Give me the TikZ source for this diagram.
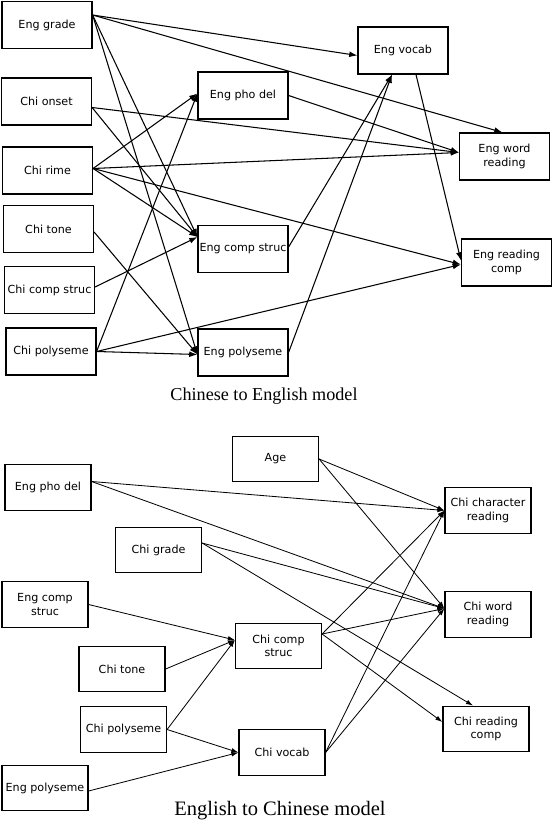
\documentclass[tikz,border=0pt]{standalone}
\usepackage{fontspec}
\usepackage{tikz}
\usetikzlibrary{arrows.meta, calc}
\newfontfamily\boxfont{DejaVu Sans}
\newfontfamily\capfont{Liberation Serif}
\tikzset{every node/.style={align=center}}

\begin{document}
\begin{tikzpicture}[
    x=0.03cm, y=-0.03cm,
    topbox/.style={draw, line width=1pt, minimum width=2.7cm, minimum height=1.41cm,
                   inner sep=0pt, font=\boxfont\fontsize{9.5}{11.4}\selectfont},
    botbox/.style={topbox, minimum width=2.58cm, minimum height=1.37cm},
    arr/.style={line width=0.9pt, -{Latex[length=7pt,width=5pt]}},
    thinarr/.style={line width=0.7pt, -{Latex[length=6pt,width=4pt]}},
    captext/.style={font=\capfont\fontsize{15.5}{18}\selectfont}
]
  \useasboundingbox (0,0) rectangle (553,825);

  % Chinese to English model
  \node (eg)  at (47,  25)   [topbox] {Eng grade};
  \node (co)  at (46.5,101.5)[topbox] {Chi onset};
  \node (cr)  at (47.5,170.5)[topbox] {Chi rime};
  \node (ct)  at (48.5,229)  [topbox] {Chi tone};
  \node (ccs) at (49.5,290)  [topbox] {Chi comp struc};
  \node (cp)  at (51,  351.5)[topbox] {Chi polyseme};
  \node (epd) at (243, 95.5) [topbox] {Eng pho del};
  \node (ecs) at (243, 249)  [topbox] {Eng comp struc};
  \node (ep)  at (243, 352.5)[topbox] {Eng polyseme};
  \node (ev)  at (403, 50.5) [topbox] {Eng vocab};
  \node (ewr) at (504.5,156.5)[topbox] {Eng word\\reading};
  \node (erc) at (506.5,262.5)[topbox] {Eng reading\\comp};
  \node (cap1) at (264,396) [captext] {Chinese to English model};

  \draw[arr] ($(eg.east)+(0,-10)$) -- ($(ev.west)+(0,5)$);
  \draw[arr] ($(eg.east)+(0,-10)$) -- ($(ewr.north)+(-2,0)$);
  \draw[arr] ($(eg.east)+(0,-10)$) -- ($(ecs.west)+(0,-12)$);
  \draw[arr] ($(eg.east)+(0,-10)$) -- ($(ep.west)+(0,2)$);
  \draw[arr] ($(co.east)+(0,6)$)   -- ($(ewr.west)+(0,-4)$);
  \draw[arr] ($(co.east)+(0,6)$)   -- ($(ecs.west)+(0,-12)$);
  \draw[arr] ($(cr.east)+(0,-2)$)  -- ($(epd.west)+(0,-2)$);
  \draw[arr] ($(cr.east)+(0,-2)$)  -- ($(ewr.west)+(0,-4)$);
  \draw[arr] ($(cr.east)+(0,-2)$)  -- ($(erc.west)+(0,2)$);
  \draw[arr] ($(cr.east)+(0,-2)$)  -- ($(ecs.west)+(0,-12)$);
  \draw[arr] ($(ct.east)+(0,3)$)   -- ($(ep.west)+(0,2)$);
  \draw[arr] ($(ccs.east)+(0,-3)$) -- ($(ecs.west)+(0,-12)$);
  \draw[arr] (cp.east) -- ($(epd.west)+(0,-2)$);
  \draw[arr] (cp.east) -- ($(ep.west)+(0,2)$);
  \draw[arr] (cp.east) -- ($(erc.west)+(0,2)$);
  \draw[arr] (epd.east) -- ($(ewr.west)+(0,-4)$);
  \draw[arr] ($(ecs.east)+(0,-2)$) -- ($(ev.south)+(-11,0)$);
  \draw[arr] (ep.east) -- ($(ev.south)+(-11,0)$);
  \draw[arr] ($(ev.south)+(13,0)$) -- ($(erc.west)+(0,-2)$);

  % English to Chinese model
  \node (age)  at (275.5,459)  [botbox] {Age};
  \node (epd2) at (48,  487.5) [botbox] {Eng pho del};
  \node (cg)   at (158.5,550)  [botbox] {Chi grade};
  \node (ecs2) at (45,  604.5) [botbox] {Eng comp\\struc};
  \node (cto)  at (122, 669)   [botbox] {Chi tone};
  \node (cpo)  at (123.5,729.5)[botbox] {Chi polyseme};
  \node (epo)  at (45,  788)   [botbox] {Eng polyseme};
  \node (ccs2) at (278.5,646)  [botbox] {Chi comp\\struc};
  \node (cv)   at (282, 752.5) [botbox] {Chi vocab};
  \node (ccr)  at (488, 510.5) [botbox] {Chi character\\reading};
  \node (cwr)  at (488, 614.5) [botbox] {Chi word\\reading};
  \node (crc)  at (486, 729)   [botbox] {Chi reading\\comp};
  \node (cap2) at (280,811) [captext, font=\capfont\fontsize{17.5}{20}\selectfont] {English to Chinese model};

  \draw[thinarr] (age.east) -- (ccr.west);
  \draw[thinarr] (age.east) -- ($(cwr.west)+(0,-6)$);
  \draw[thinarr] ($(epd2.east)+(0,-6)$) -- (ccr.west);
  \draw[thinarr] ($(epd2.east)+(0,-6)$) -- ($(cwr.west)+(0,-6)$);
  \draw[thinarr] ($(cg.east)+(0,-7)$) -- ($(cwr.west)+(0,-6)$);
  \draw[thinarr] ($(cg.east)+(0,-7)$) -- ($(crc.north)+(-13,0)$);
  \draw[thinarr] (ecs2.east) -- ($(ccs2.west)+(0,-6)$);
  \draw[thinarr] (cto.east) -- ($(ccs2.west)+(0,-6)$);
  \draw[thinarr] (cpo.east) -- ($(ccs2.west)+(0,-6)$);
  \draw[thinarr] (cpo.east) -- (cv.west);
  \draw[thinarr] ($(epo.east)+(0,3)$) -- (cv.west);
  \draw[thinarr] ($(ccs2.east)+(0,-12)$) -- (ccr.west);
  \draw[thinarr] ($(ccs2.east)+(0,-12)$) -- ($(cwr.west)+(0,-6)$);
  \draw[thinarr] ($(ccs2.east)+(0,-12)$) -- ($(crc.west)+(0,-7)$);
  \draw[thinarr] (cv.east) -- (ccr.west);
  \draw[thinarr] (cv.east) -- ($(cwr.west)+(0,-6)$);
\end{tikzpicture}
\end{document}
